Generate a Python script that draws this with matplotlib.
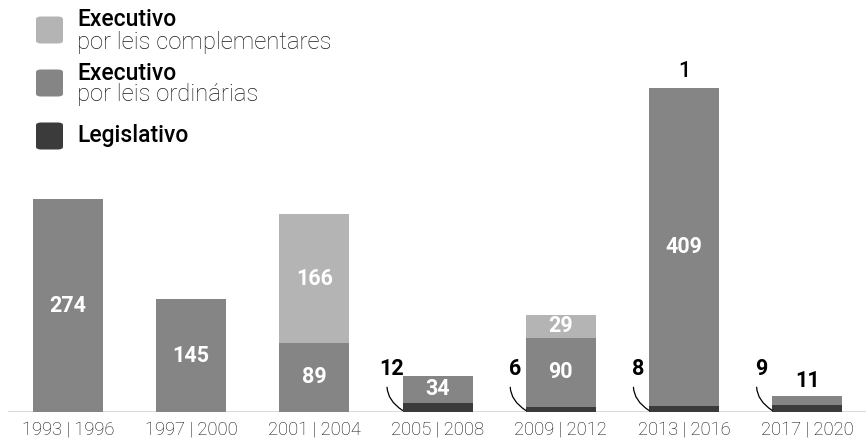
import matplotlib
matplotlib.use("Agg")
import matplotlib.pyplot as plt
from matplotlib.patches import FancyBboxPatch
import numpy as np

plt.rcParams['font.family'] = ['Roboto', 'DejaVu Sans']

periods = ["1993 | 1996", "1997 | 2000", "2001 | 2004", "2005 | 2008",
           "2009 | 2012", "2013 | 2016", "2017 | 2020"]
legislativo = [0, 0, 0, 12, 6, 8, 9]
exec_ordinarias = [274, 145, 89, 34, 90, 409, 11]
exec_complementares = [0, 0, 166, 0, 29, 1, 0]

c_light = "#b4b4b4"
c_mid = "#858585"
c_dark = "#3b3b3b"

W, H = 866, 442
fig = plt.figure(figsize=(W / 100, H / 100), dpi=100)

ax_left, ax_right = 8, 866
ax = fig.add_axes([ax_left / W, 30 / H, (ax_right - ax_left) / W, 412 / H])
spacing = 123.2
x0 = 68
ax.set_xlim(-(x0 - ax_left) / spacing, (ax_right - x0) / spacing)
ax.set_ylim(0, 412 / 0.776)

x = np.arange(len(periods))
leg = np.array(legislativo)
ordi = np.array(exec_ordinarias)
comp = np.array(exec_complementares)
bw = 70 / spacing

ax.bar(x, leg, width=bw, color=c_dark, linewidth=0)
ax.bar(x, ordi, width=bw, bottom=leg, color=c_mid, linewidth=0)
ax.bar(x, comp, width=bw, bottom=leg + ordi, color=c_light, linewidth=0)

for s in ax.spines.values():
    s.set_visible(False)
ax.axhline(0, color="#d6d6d6", linewidth=2, zorder=0)
ax.set_yticks([])
ax.set_xticks(x)
ax.set_xticklabels(periods, fontsize=13.2, fontweight='light', color="#111111")
ax.tick_params(axis='x', length=0, pad=6)

val_fs = 15.5
for i in range(len(x)):
    if ordi[i] > 20:
        ax.text(x[i], leg[i] + ordi[i] / 2, str(ordi[i]), ha='center', va='center',
                color='white', fontsize=val_fs, fontweight='bold')
    elif ordi[i] > 0:
        ax.annotate(str(ordi[i]), (x[i], leg[i] + ordi[i] + comp[i]),
                    xytext=(0, 3), textcoords='offset points', ha='center', va='bottom',
                    color='black', fontsize=val_fs, fontweight='bold')
    if comp[i] > 20:
        ax.text(x[i], leg[i] + ordi[i] + comp[i] / 2, str(comp[i]), ha='center',
                va='center', color='white', fontsize=val_fs, fontweight='bold')
    elif comp[i] > 0:
        ax.annotate(str(comp[i]), (x[i], leg[i] + ordi[i] + comp[i]),
                    xytext=(0, 4), textcoords='offset points', ha='center', va='bottom',
                    color='black', fontsize=val_fs, fontweight='medium')
    if leg[i] > 0:
        ax.annotate(str(leg[i]), xy=(x[i] - bw / 2, 2),
                    xytext=(x[i] - 46 / spacing, 55), textcoords='data',
                    ha='center', va='center', color='black', fontsize=val_fs,
                    fontweight='bold',
                    arrowprops=dict(arrowstyle='-', color='black', lw=0.9,
                                    connectionstyle='arc3,rad=0.45',
                                    shrinkA=3, shrinkB=0))

def fx(px):
    return px / W

def fy(py):
    return 1 - py / H

items = [
    (c_light, 30, "Executivo", "por leis complementares"),
    (c_mid, 83, "Executivo", "por leis ordinárias"),
    (c_dark, 136, "Legislativo", None),
]
for col, cy, t1, t2 in items:
    sq = FancyBboxPatch((fx(36), fy(cy + 13.5)), fx(27), 27 / H,
                        boxstyle="round,pad=0,rounding_size=0.006",
                        transform=fig.transFigure, facecolor=col, edgecolor='none')
    fig.patches.append(sq)
    if t2 is None:
        fig.text(fx(77), fy(cy + 6), t1, fontsize=16.5, fontweight='medium',
                 color='black', va='baseline', ha='left')
    else:
        fig.text(fx(77), fy(cy - 3.5), t1, fontsize=16.5, fontweight='medium',
                 color='black', va='baseline', ha='left')
        fig.text(fx(77), fy(cy + 18.5), t2, fontsize=17.2, fontweight='light',
                 color='#1a1a1a', va='baseline', ha='left')

fig.savefig("out.png", dpi=100)
